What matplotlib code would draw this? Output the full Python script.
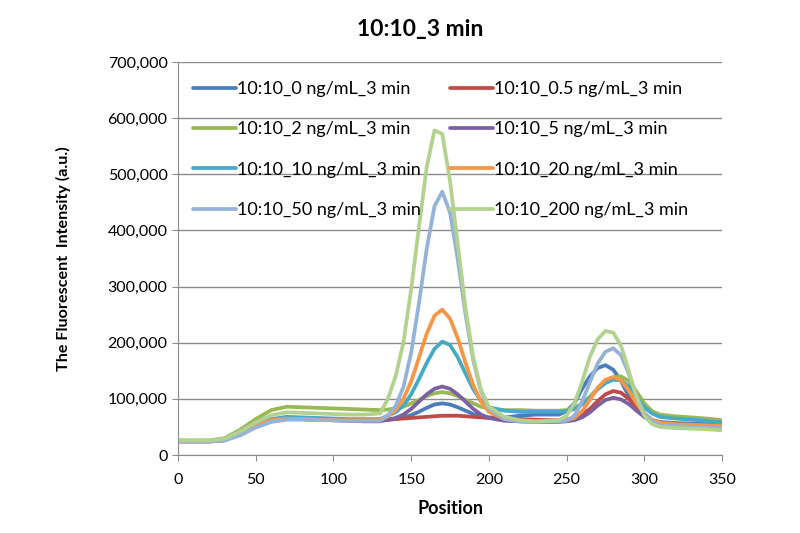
import matplotlib
matplotlib.use("Agg")
import matplotlib.pyplot as plt
from matplotlib.ticker import FuncFormatter

plt.rcParams['font.family'] = ['Lato', 'DejaVu Sans']

# positions along the strip
position = [0, 10, 20, 30, 40, 50, 60, 70, 80, 90, 100, 110, 120, 130,
            135, 140, 145, 150, 155, 160, 165, 170, 175, 180, 185, 190, 195, 200,
            210, 220, 230, 240,
            245, 250, 255, 260, 265, 270, 275, 280, 285, 290, 295, 300, 305, 310,
            320, 330, 340, 350]

# intensities in thousands (a.u.)
c0 = [25, 25, 25, 27, 37, 51, 61, 64, 64, 63, 62, 62, 62, 62,
      63, 64, 67, 71, 77, 84, 90, 92, 90, 85, 79, 73, 69, 67,
      67, 70, 72, 72,
      72, 78, 92, 118, 140, 155, 160, 152, 132, 105, 82, 68, 62, 59,
      57, 56, 55, 54]
c05 = [24, 24, 24, 26, 37, 50, 60, 64, 64, 63, 62, 62, 62, 62,
       63, 64, 65, 66, 67, 68, 69, 70, 70, 70, 69, 68, 67, 66,
       65, 64, 63, 62,
       62, 63, 66, 72, 82, 96, 108, 114, 111, 100, 85, 71, 62, 58,
       55, 53, 52, 50]
c2 = [26, 26, 26, 30, 45, 64, 80, 86, 85, 84, 83, 82, 81, 80,
      81, 83, 86, 92, 98, 105, 110, 112, 110, 105, 98, 92, 86, 83,
      80, 80, 79, 79,
      79, 80, 84, 92, 104, 118, 130, 138, 140, 132, 113, 92, 78, 72,
      69, 67, 65, 62]
c5 = [25, 25, 25, 27, 37, 50, 60, 64, 64, 63, 62, 61, 60, 60,
      63, 66, 72, 82, 95, 108, 118, 122, 118, 108, 95, 82, 72, 66,
      61, 60, 59, 59,
      59, 60, 62, 67, 76, 88, 98, 102, 99, 91, 79, 68, 61, 57,
      55, 54, 53, 52]
c10 = [25, 25, 25, 28, 40, 55, 64, 68, 67, 66, 65, 64, 64, 64,
       70, 76, 88, 108, 135, 164, 189, 202, 196, 174, 145, 117, 96, 85,
       79, 77, 77, 77,
       77, 78, 82, 90, 102, 117, 128, 134, 133, 122, 103, 85, 74, 68,
       65, 63, 61, 58]
c20 = [25, 25, 25, 27, 38, 52, 62, 65, 64, 63, 62, 62, 62, 62,
       69, 80, 100, 131, 173, 216, 248, 259, 243, 208, 164, 124, 95, 77,
       64, 60, 60, 61,
       61, 62, 66, 78, 98, 120, 134, 139, 133, 115, 92, 74, 63, 58,
       55, 54, 53, 52]
c50 = [24, 24, 24, 26, 35, 49, 59, 63, 63, 62, 62, 61, 61, 61,
       71, 87, 121, 182, 270, 367, 443, 469, 432, 348, 250, 168, 113, 83,
       64, 60, 59, 60,
       60, 61, 70, 95, 130, 163, 184, 190, 178, 145, 105, 75, 60, 54,
       52, 50, 49, 48]
c200 = [26, 26, 26, 29, 42, 58, 71, 76, 75, 74, 73, 72, 72, 74,
        100, 140, 200, 295, 405, 513, 578, 572, 488, 376, 261, 173, 116, 86,
        68, 62, 60, 61,
        62, 70, 92, 130, 175, 206, 221, 218, 195, 150, 103, 70, 55, 50,
        48, 47, 46, 44]

labels = ["10:10_0 ng/mL_3 min", "10:10_0.5 ng/mL_3 min", "10:10_2 ng/mL_3 min",
          "10:10_5 ng/mL_3 min", "10:10_10 ng/mL_3 min", "10:10_20 ng/mL_3 min",
          "10:10_50 ng/mL_3 min", "10:10_200 ng/mL_3 min"]
series = [c0, c05, c2, c5, c10, c20, c50, c200]
colors = ["#4A7EBB", "#BE4B48", "#98B954", "#7D60A0", "#46AAC5", "#F79646", "#95B3D7", "#B3D28F"]

fig = plt.figure(figsize=(8, 5.33), dpi=100)
ax = fig.add_axes([0.2225, 0.1463, 0.68, 0.7374])

lines = []
for vals, lab, col in zip(series, labels, colors):
    ln, = ax.plot(position, [v * 1000 for v in vals], color=col, lw=2.7, label=lab,
                  solid_capstyle='round', solid_joinstyle='round')
    lines.append(ln)

ax.set_xlim(0, 350)
ax.set_ylim(0, 700000)
ax.set_xticks(range(0, 351, 50))
ax.set_yticks(range(0, 700001, 100000))
ax.yaxis.set_major_formatter(FuncFormatter(lambda v, p: f"{int(v):,}"))
ax.grid(axis='y', color='#8c8c8c', lw=1)
ax.set_axisbelow(True)
for s in ['top', 'right']:
    ax.spines[s].set_visible(False)
for s in ['left', 'bottom']:
    ax.spines[s].set_color('#8c8c8c')
ax.tick_params(colors='#8c8c8c', labelcolor='black', labelsize=11.5, length=4)
ax.tick_params(axis='x', pad=9)

ax.set_title("10:10_3 min", fontsize=16.5, fontweight='bold', pad=19, x=0.445)
ax.set_xlabel("Position", fontsize=13, fontweight='bold', labelpad=9)
ax.set_ylabel("The Fluorescent  Intensity (a.u.)", fontsize=11.6, fontweight='bold', labelpad=26)

# Excel fills the legend row by row
order = [0, 2, 4, 6, 1, 3, 5, 7]
ax.legend([lines[i] for i in order], [labels[i] for i in order],
          loc='upper left', bbox_to_anchor=(0.0, 0.99), ncol=2, frameon=False, fontsize=13,
          handlelength=2.4, handletextpad=0.05, columnspacing=1.6, labelspacing=1.35,
          borderaxespad=0.43)

fig.savefig("out.png", dpi=100)
